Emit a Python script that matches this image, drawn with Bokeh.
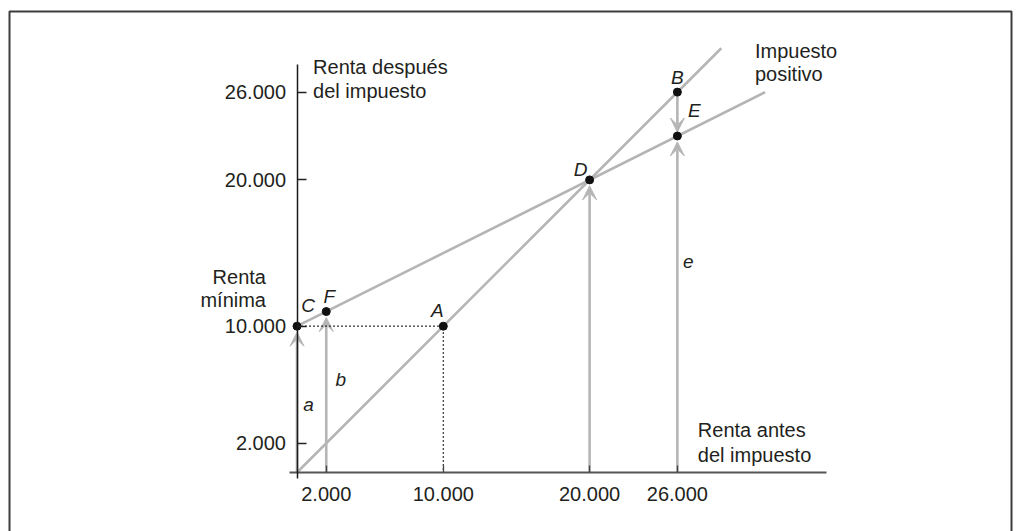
from bokeh.plotting import figure
from bokeh.models import (Range1d, LinearAxis, FixedTicker, Arrow, VeeHead,
                          ColumnDataSource, BoxAnnotation)
from bokeh.core.properties import value
from bokeh.embed import file_html
from bokeh.resources import INLINE

# ---------------- data ----------------
tick_values = [2000, 10000, 20000, 26000]
tick_labels = ["2.000", "10.000", "20.000", "26.000"]

point_names = ["A", "B", "C", "D", "E", "F"]
point_x = [10000, 26000, 0, 20000, 26000, 2000]
point_y = [10000, 26000, 10000, 20000, 23000, 11000]

no_tax_x = [0, 29000]          # renta despues = renta antes (45 grados)
no_tax_y = [0, 29000]
tax_x = [0, 32000]             # impuesto positivo con renta minima
tax_y = [10000, 26000]

arrow_names = ["a", "b", "", "e"]
arrow_x = [0, 2000, 20000, 26000]
arrow_top = [10000, 11000, 20000, 23000]

drop_x = [26000]               # de B a E
drop_from = [26000]
drop_to = [23000]

# ---------------- layout ----------------
W, H = 1019, 531
X0, Y0 = 296.5, 472    # canvas pixel of the origin
S = 0.01463            # pixels per unit
FONT = "Liberation Sans"
TXT = "#231f20"
GRAY = "#b5b5b5"

p = figure(width=W, height=H,
           x_range=Range1d(-X0 / S, (W - X0) / S),
           y_range=Range1d(-(H - Y0) / S, Y0 / S),
           x_axis_type=None, y_axis_type=None,
           output_backend="svg", toolbar_location=None,
           min_border=0, outline_line_color=None)
p.background_fill_color = "white"
p.border_fill_color = "white"

overrides = {v: l for v, l in zip(tick_values, tick_labels)}

xaxis = LinearAxis(fixed_location=0, bounds=(-500, 36200),
                   ticker=FixedTicker(ticks=tick_values),
                   major_label_overrides=overrides,
                   axis_line_color="#555555", axis_line_width=2.2,
                   major_tick_in=7, major_tick_out=0,
                   major_tick_line_color="#444444", major_tick_line_width=1.3,
                   minor_tick_line_color=None,
                   major_label_text_font=FONT, major_label_text_font_size="20px",
                   major_label_text_color=TXT, major_label_standoff=14)
p.add_layout(xaxis, "below")

yaxis = LinearAxis(fixed_location=0, bounds=(-400, 27900),
                   ticker=FixedTicker(ticks=tick_values),
                   major_label_overrides=overrides,
                   axis_line_color="#1a1a1a", axis_line_width=1.5,
                   major_tick_in=9, major_tick_out=0,
                   major_tick_line_color="#222222", major_tick_line_width=1.3,
                   minor_tick_line_color=None,
                   major_label_text_font=FONT, major_label_text_font_size="20px",
                   major_label_text_color=TXT, major_label_standoff=11)
p.add_layout(yaxis, "left")

# frame border (open at the bottom, beyond the picture)
xs0, ys0, ye = p.x_range.start, p.y_range.start, p.y_range.end
p.add_layout(BoxAnnotation(left=xs0 + 9 / S, right=xs0 + 1011 / S,
                           top=ye - 11 / S, bottom=ys0 - 40 / S,
                           fill_color=None, fill_alpha=0,
                           line_color="#3c3c3c", line_width=2, line_alpha=1,
                           level="underlay"))

# dotted guide lines C -> A -> axis
A_x, A_y = point_x[0], point_y[0]
C_x = point_x[2]
p.line([C_x, A_x, A_x], [A_y, A_y, 0], line_color="#333333", line_width=1.2,
       line_dash="2 2")

# arrows
gap = 6 / S
up_src = ColumnDataSource(dict(x=arrow_x, y0=[0] * len(arrow_x),
                               y1=[t - gap for t in arrow_top]))
p.add_layout(Arrow(end=VeeHead(size=14, fill_color=GRAY, line_color=GRAY, line_width=1),
                   x_start="x", y_start="y0", x_end="x", y_end="y1",
                   source=up_src, line_color=GRAY, line_width=2.6, level="underlay"))
down_src = ColumnDataSource(dict(x=drop_x, y0=drop_from, y1=[d + 4 / S for d in drop_to]))
p.add_layout(Arrow(end=VeeHead(size=14, fill_color=GRAY, line_color=GRAY, line_width=1),
                   x_start="x", y_start="y0", x_end="x", y_end="y1",
                   source=down_src, line_color=GRAY, line_width=2.6, level="underlay"))

# income lines
p.line(no_tax_x, no_tax_y, line_color=GRAY, line_width=2.6)
p.line(tax_x, tax_y, line_color=GRAY, line_width=2.6)

# points
p.scatter(point_x, point_y, size=8, color="#111111")

# point labels (offsets in screen pixels, centre of letter)
lab = ColumnDataSource(dict(x=point_x, y=point_y, t=point_names,
                            dx=[-6, 0, 11, -9, 17, 3],
                            dy=[-16, -15, -21, -10, -26, -15]))
p.text(x="x", y="y", text="t", x_offset="dx", y_offset="dy", source=lab,
       text_font=value(FONT), text_font_style="italic", text_font_size="19px",
       text_color=TXT, text_align="center", text_baseline="middle")

# arrow letters
arr_lab = ColumnDataSource(dict(x=arrow_x, y=[4650, 6360, 0, 14420], t=arrow_names,
                                dx=[11.5, 14.5, 0, 11]))
p.text(x="x", y="y", text="t", x_offset="dx", source=arr_lab,
       text_font=value(FONT), text_font_style="italic", text_font_size="19px",
       text_color=TXT, text_align="center", text_baseline="middle")

# axis / curve titles
titles = ColumnDataSource(dict(
    x=[1100, 1100, 31300, 31300, 27400, 27400],
    y=[27750, 26110, 28830, 27220, 2930, 1210],
    t=["Renta después", "del impuesto", "Impuesto", "positivo",
       "Renta antes", "del impuesto"]))
p.text(x="x", y="y", text="t", source=titles, text_font=value(FONT),
       text_font_size="20px", text_color=TXT, text_align="left",
       text_baseline="middle")

left_title = ColumnDataSource(dict(x=[-2120, -2120], y=[13380, 11760],
                                   t=["Renta", "mínima"]))
p.text(x="x", y="y", text="t", source=left_title, text_font=value(FONT),
       text_font_size="20px", text_color=TXT, text_align="right",
       text_baseline="middle")

open("out.html", "w").write(file_html(p, INLINE))
